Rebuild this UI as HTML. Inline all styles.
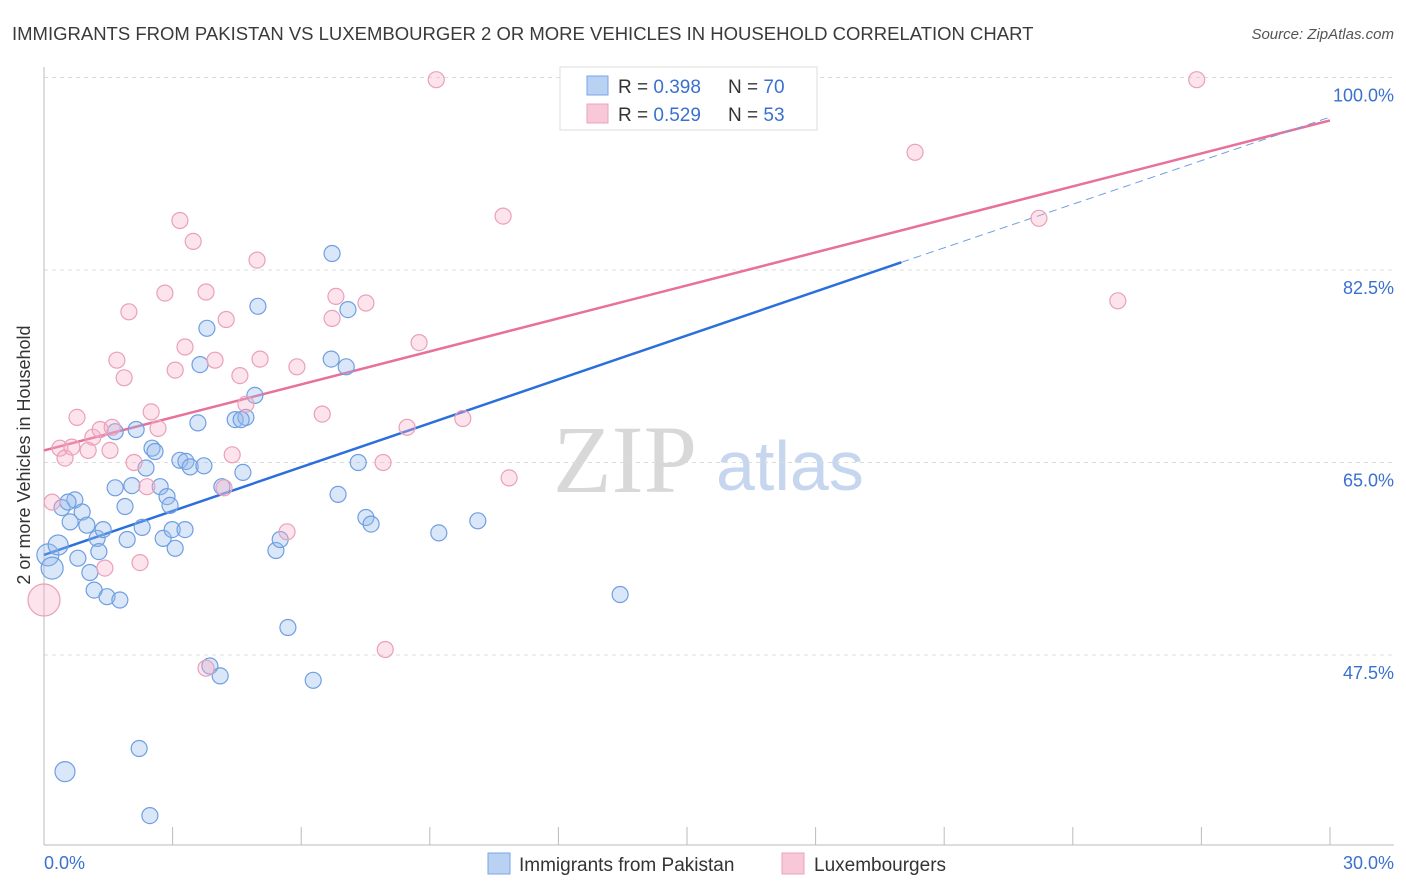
<!DOCTYPE html>
<html><head><meta charset="utf-8">
<style>
body{margin:0;background:#fff;font-family:"Liberation Sans",sans-serif;}
svg{display:block}
</style></head>
<body>
<svg id="chart" width="1406" height="892" viewBox="0 0 1406 892" xmlns="http://www.w3.org/2000/svg">
<text x="12" y="40" font-size="18.5" fill="#3a3a3a">IMMIGRANTS FROM PAKISTAN VS LUXEMBOURGER 2 OR MORE VEHICLES IN HOUSEHOLD CORRELATION CHART</text>
<text x="1394" y="39" font-size="15" fill="#555" font-style="italic" text-anchor="end">Source: ZipAtlas.com</text>
<g>
<text x="553" y="492" font-size="96" font-family="Liberation Serif,serif" fill="#d8d8d8">ZIP</text>
<text x="716" y="490" font-size="70" fill="#c5d6ee">atlas</text>
</g>
<g id="grid"></g>
<g id="axes"></g>
<g id="lines"></g>
<g id="points"></g>
<text x="30" y="455" font-size="18" fill="#333" text-anchor="middle" transform="rotate(-90 30 455)">2 or more Vehicles in Household</text>
<text x="44" y="869" font-size="18" fill="#3a70d0">0.0%</text>
<text x="1394" y="869" font-size="18" fill="#3a70d0" text-anchor="end">30.0%</text>
<g>
<rect x="560" y="67" width="257" height="63" fill="#fff" stroke="#ddd"/>
<rect x="587" y="76" width="21" height="19" fill="#b9d2f3" stroke="#7aa6e6"/>
<rect x="587" y="104" width="21" height="19" fill="#f8c8d8" stroke="#eba3bc"/>
<text x="618" y="93" font-size="19" fill="#333">R = <tspan fill="#3a70d0">0.398</tspan></text>
<text x="728" y="93" font-size="19" fill="#333">N = <tspan fill="#3a70d0">70</tspan></text>
<text x="618" y="121" font-size="19" fill="#333">R = <tspan fill="#3a70d0">0.529</tspan></text>
<text x="728" y="121" font-size="19" fill="#333">N = <tspan fill="#3a70d0">53</tspan></text>
</g>
<g>
<rect x="488" y="853" width="22" height="21" fill="#b9d2f3" stroke="#7aa6e6"/>
<text x="519" y="871" font-size="19" fill="#333">Immigrants from Pakistan</text>
<rect x="782" y="853" width="22" height="21" fill="#f8c8d8" stroke="#eba3bc"/>
<text x="814" y="871" font-size="19" fill="#333">Luxembourgers</text>
</g>
</svg>
<script>
const yTicks=[47.5,65.0,82.5,100.0];
const yTickLabels=["47.5%","65.0%","82.5%","100.0%"];
const xTicks=[0,3,6,9,12,15,18,21,24,27,30];
const blueX=[0.09,0.19,0.33,0.42,0.61,0.72,0.56,0.89,1.00,1.07,0.79,1.24,1.28,1.17,1.38,1.47,1.77,1.89,1.94,1.66,2.05,2.29,2.38,2.52,2.59,2.71,2.78,2.87,2.94,2.99,3.06,3.29,3.17,3.31,3.41,3.73,3.59,3.64,3.80,4.15,4.46,4.64,4.71,4.92,4.99,2.15,1.66,3.87,4.11,5.41,5.51,5.69,6.28,6.70,6.72,6.86,7.05,7.09,7.33,7.51,7.63,9.21,10.12,13.44,16.35,2.22,0.49,2.47,4.60];
const blueY=[56.6,55.4,57.5,60.9,59.6,61.6,61.4,60.5,59.3,55.0,56.3,58.1,56.9,53.4,58.9,52.8,52.5,61.0,58.0,62.7,62.9,59.1,64.5,66.3,66.0,62.8,58.1,61.9,61.1,58.9,57.2,58.9,65.2,65.1,64.6,64.7,68.6,73.9,77.2,62.8,68.9,64.1,69.1,71.1,79.2,68.0,67.8,46.5,45.6,57.0,58.0,50.0,45.2,74.4,84.0,62.1,73.7,78.9,65.0,60.0,59.4,58.6,59.7,53.0,99.9,39.0,36.9,32.9,68.9];
const blueR=[11,11,10,8,8,8,8,8,8,8,8,8,8,8,8,8,8,8,8,8,8,8,8,8,8,8,8,8,8,8,8,8,8,8,8,8,8,8,8,8,8,8,8,8,8,8,8,8,8,8,8,8,8,8,8,8,8,8,8,8,8,8,8,8,8,8,10,8,8];
const pinkX=[0,0.19,0.37,0.49,0.65,0.77,1.03,1.14,1.31,1.54,1.59,1.70,1.87,1.98,2.10,2.24,2.40,2.50,2.66,2.82,3.06,3.17,3.29,3.48,3.78,3.99,4.20,4.25,4.39,4.57,4.71,4.97,5.04,5.67,5.90,6.49,6.72,6.81,7.51,7.91,7.96,8.47,8.75,9.15,9.77,10.71,10.85,20.32,23.21,25.05,26.89,3.78,1.42];
const pinkY=[52.5,61.4,66.3,65.4,66.4,69.1,66.1,67.3,68.0,66.1,68.2,74.3,72.7,78.7,65.0,55.9,62.8,69.6,68.1,80.4,73.4,87.0,75.5,85.1,80.5,74.3,62.7,78.0,65.7,72.9,70.3,83.4,74.4,58.7,73.7,69.4,78.1,80.1,79.5,65.0,48.0,68.2,75.9,99.8,69.0,87.4,63.6,93.2,87.2,79.7,99.8,46.3,55.4];
const blueTrendX=[0,20,30];
const blueTrendY=[56.6,83.2,96.4];
const pinkTrendX=[0,30];
const pinkTrendY=[66.1,96.1];

const X0=44,X1=1330;
function sx(v){return X0+(v/30)*(X1-X0);}
function sy(v){return 270+(82.5-v)*(192.5/17.5);}
const NS="http://www.w3.org/2000/svg";
function mk(tag,attrs,parent){const e=document.createElementNS(NS,tag);for(const k in attrs)e.setAttribute(k,attrs[k]);parent.appendChild(e);return e;}
const grid=document.getElementById('grid'),axes=document.getElementById('axes'),lines=document.getElementById('lines'),pts=document.getElementById('points');
yTicks.forEach((t,i)=>{
  const y=sy(t);
  const l=mk('line',{x1:X0,x2:1394,y1:y,y2:y,stroke:'#dcdcdc','stroke-dasharray':'4 4'},grid);
  
  
  const tx=mk('text',{x:1394,y:y+24,'font-size':18,fill:'#3a70d0','text-anchor':'end'},grid);
  tx.textContent=yTickLabels[i];
  
  
});
const ax=mk('line',{x1:X0,x2:X0,y1:67,y2:845,stroke:'#bbb'},axes);


const bx=mk('line',{x1:X0,x2:1394,y1:845,y2:845,stroke:'#bbb'},axes);


xTicks.forEach(t=>{
  const tk=mk('line',{x1:sx(t),x2:sx(t),y1:827,y2:845,stroke:'#bbb'},axes);
  
  
});
blueX.forEach((v,i)=>{
  const c=mk('circle',{cx:sx(v),cy:sy(blueY[i]),r:blueR[i]||8,fill:'rgba(150,185,235,0.35)',stroke:'#6f9fe2','stroke-width':1.2},pts);
  
  
});
pinkX.forEach((v,i)=>{
  const c=mk('circle',{cx:sx(v),cy:sy(pinkY[i]),r:i===0?16:8,fill:'rgba(245,175,200,0.35)',stroke:'#eaa0ba','stroke-width':1.2},pts);
  
  
});
const pl=mk('line',{x1:sx(pinkTrendX[0]),y1:sy(pinkTrendY[0]),x2:sx(pinkTrendX[1]),y2:sy(pinkTrendY[1]),stroke:'#e8709a','stroke-width':2.5},lines);


const bl=mk('line',{x1:sx(blueTrendX[0]),y1:sy(blueTrendY[0]),x2:sx(blueTrendX[1]),y2:sy(blueTrendY[1]),stroke:'#2a6fdb','stroke-width':2.5},lines);


const bd=mk('line',{x1:sx(blueTrendX[1]),y1:sy(blueTrendY[1]),x2:sx(blueTrendX[2]),y2:sy(blueTrendY[2]),stroke:'#6f9fe2','stroke-width':1,'stroke-dasharray':'8 5'},lines);


</script>
</body></html>
